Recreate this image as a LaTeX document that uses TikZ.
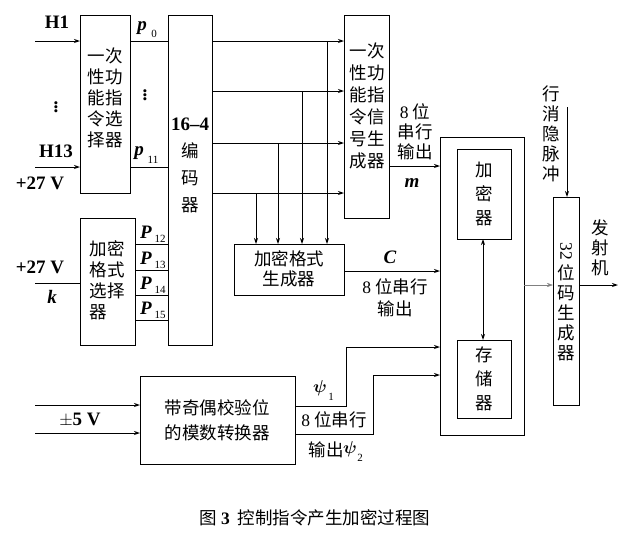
\documentclass[tikz,border=0pt]{standalone}
\usepackage{amsmath,amssymb}
\usepackage{bm}
\usepackage{fontspec}
\setmainfont{Liberation Serif}
\newfontfamily\cjk{Noto Sans CJK SC}
\usetikzlibrary{arrows.meta}
\begin{document}
\begin{tikzpicture}[x=1pt,y=-1pt,line width=1pt,
  box/.style={draw,anchor=north west,inner sep=0pt},
  zh/.style={font=\cjk\fontsize{17.5}{21}\selectfont,align=center,inner sep=0pt},
  lab/.style={font=\fontsize{19}{20}\selectfont\bfseries,inner sep=0pt},
  sub/.style={font=\fontsize{11}{12}\selectfont,inner sep=0pt},
  arr/.style={-{Stealth[length=6pt,width=4pt]}}]
\useasboundingbox (0,0) rectangle (630,539);
% boxes
\node[box,minimum width=50pt,minimum height=178pt] (b1) at (80,15) {};
\node[box,minimum width=44pt,minimum height=330pt] (enc) at (168,15) {};
\node[box,minimum width=55pt,minimum height=127pt] (b2) at (80,218) {};
\node[box,minimum width=45pt,minimum height=203pt] (b3) at (344,15) {};
\node[box,minimum width=110pt,minimum height=51pt] (fmt) at (234,244) {};
\node[box,minimum width=84pt,minimum height=298pt] (big) at (440,137) {};
\node[box,minimum width=54pt,minimum height=90pt] (jm) at (457,149) {};
\node[box,minimum width=54pt,minimum height=78pt] (cc) at (457,340) {};
\node[box,minimum width=155pt,minimum height=88pt] (par) at (140,376) {};
\node[box,minimum width=26pt,minimum height=208pt] (g32) at (553,197) {};
% box texts
\node[zh] at (105,98) {一次\\性功\\能指\\令选\\择器};
\node[zh,align=left] at (107,280) {加密\\格式\\选择\\器\phantom{器}};
\node[zh,font=\cjk\fontsize{17.5}{27}\selectfont] at (190,165) {{\fontspec{Liberation Serif}\fontsize{19}{20}\selectfont\bfseries 16–4}\\编\\码\\器};
\node[zh,font=\cjk\fontsize{17.5}{22}\selectfont] at (367,106) {一次\\性功\\能指\\令信\\号生\\成器};
\node[zh,font=\cjk\fontsize{17.5}{20}\selectfont] at (289,269) {加密格式\\生成器};
\node[zh,font=\cjk\fontsize{17.5}{24}\selectfont] at (484,194) {加\\密\\器};
\node[zh,font=\cjk\fontsize{17.5}{24}\selectfont] at (484,379) {存\\储\\器};
\node[zh,font=\cjk\fontsize{17.5}{25}\selectfont] at (217,420) {带奇偶校验位\\的模数转换器};
\node[zh,font=\cjk\fontsize{17.5}{20}\selectfont] at (566,302) {\rotatebox{-90}{\fontspec{Liberation Serif}\fontsize{17.5}{18}\selectfont 32}\\[4pt]位\\码\\生\\成\\器};
% P slots
\foreach \y/\s in {244/12,270/13,295/14,320/15}{
  \draw (135,\y) coordinate (s\s) -- (168,\y);
  \node[lab,font=\fontsize{19}{20}\selectfont\bfseries\itshape] at (146,\y-12) {P};
  \node[sub] at (160,\y-5) {\s};
}
% p0 ... p11
\coordinate (p0) at (130,41); \coordinate (p11) at (130,167);
\draw (p0) -- (168,41);
\draw (p11) -- (168,167);
\node[lab,font=\fontsize{19}{20}\selectfont\bfseries\itshape] at (142,28) {p};
\node[sub] at (154,34) {0};
\node[lab,font=\fontsize{19}{20}\selectfont\bfseries\itshape] at (139,153) {p};
\node[sub] at (153,160) {11};
\node[lab] at (145,92) {$\vdots$};
% left inputs
\coordinate (h1) at (35,41); \coordinate (h13) at (35,167); \coordinate (v27) at (35,283);
\draw[arr] (h1) -- (80,41);
\draw[arr] (h13) -- (80,167);
\draw (v27) -- (80,283);
\node[lab] at (57,22) {H1};
\node[lab] at (56,104) {$\vdots$};
\node[lab] at (56,151) {H13};
\node[lab] at (40,183) {+27 V};
\node[lab] at (40,267) {+27 V};
\node[lab,font=\fontsize{19}{20}\selectfont\bfseries\itshape] at (52,297) {k};
% encoder outputs
\foreach \y in {41,91,143,193}{\draw[arr] (212,\y) -- (344,\y);}
\draw[arr] (256,193) -- (256,244);
\draw[arr] (278,143) -- (278,244);
\draw[arr] (302,91) -- (302,244);
\draw[arr] (327,41) -- (327,244);
% to big box
\draw[arr] (389,166) -- (440,166);
\node[zh,font=\cjk\fontsize{17.5}{20}\selectfont] at (415,132) {{\fontspec{Liberation Serif}8} 位\\串行\\输出};
\node[lab,font=\fontsize{19}{20}\selectfont\bfseries\itshape] at (412,183) {m};
\draw[arr] (344,271) -- (440,271);
\node[lab,font=\fontsize{19}{20}\selectfont\bfseries\itshape] at (390,257) {C};
\node[zh,font=\cjk\fontsize{17.5}{22}\selectfont] at (395,298) {{\fontspec{Liberation Serif}8} 位串行\\输出};
\draw[arr] (295,406) -- (346,406) -- (346,347) -- (440,347);
\draw[arr] (295,434) -- (373,434) -- (373,375) -- (440,375);
\node[font=\fontsize{19}{20}\selectfont,inner sep=0pt] at (320,388) {$\bm{\psi}$};
\node[sub] at (331,397) {1};
\node[zh] at (334,420) {{\fontspec{Liberation Serif}8} 位串行};
\node[zh] at (326,450) {输出};
\node[font=\fontsize{19}{20}\selectfont,inner sep=0pt] at (350,449) {$\bm{\psi}$};
\node[sub] at (360,458) {2};
\draw[arr] (35,405) -- (140,405);
\draw[arr] (35,433) -- (140,433);
\node[lab] at (80,420) {$\pm$5 V};
% inner double arrow
\draw[{Stealth[length=6pt,width=4pt]}-{Stealth[length=6pt,width=4pt]}] (483,239) -- (483,340);
% right part
\draw[arr,line width=0.5pt,gray] (524,285) -- (553,285);
\draw[arr] (579,285) -- (618,285);
\draw[arr] (567,107) -- (567,197);
\node[zh,font=\cjk\fontsize{17.5}{20}\selectfont] at (551,134) {行\\消\\隐\\脉\\冲};
\node[zh,font=\cjk\fontsize{17.5}{20}\selectfont] at (600,248) {发\\射\\机};
% caption
\node[font=\cjk\fontsize{17.5}{18}\selectfont,inner sep=0pt] at (315,518) {图\ {\fontspec{Liberation Serif}\bfseries 3}\ \ 控制指令产生加密过程图};
\end{tikzpicture}
\end{document}
